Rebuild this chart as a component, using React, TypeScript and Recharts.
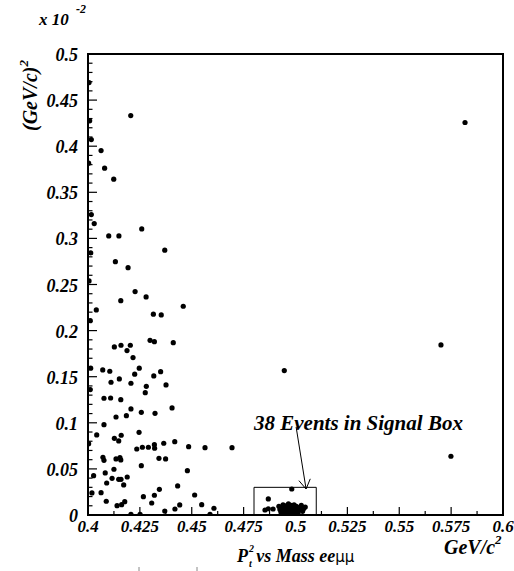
import React from "react";
import {
  ScatterChart,
  Scatter,
  XAxis,
  YAxis,
  ReferenceArea,
  ReferenceLine,
} from "recharts";

// background events (mass eeμμ, GeV/c^2) and Pt^2 (x 10^-2 (GeV/c)^2)
const bgMass = [
  0.4005, 0.4206, 0.4008, 0.4016, 0.4063, 0.4003, 0.408, 0.4124, 0.4016, 0.403,
  0.41, 0.4149, 0.4259, 0.4013, 0.437, 0.4132, 0.4193, 0.4005, 0.4227, 0.428,
  0.4158, 0.4459, 0.404, 0.4315, 0.4353, 0.4011, 0.4299, 0.432, 0.4411, 0.4127,
  0.4159, 0.4204, 0.4188, 0.4217, 0.4013, 0.4071, 0.4105, 0.4247, 0.435, 0.4225,
  0.4317, 0.4151, 0.4111, 0.4207, 0.4281, 0.4376, 0.4011, 0.4276, 0.4077, 0.4109,
  0.4158, 0.4207, 0.4257, 0.4323, 0.4405, 0.4135, 0.4185, 0.4077, 0.4042, 0.4246,
  0.4127, 0.4148, 0.416, 0.4003, 0.4235, 0.4262, 0.4291, 0.432, 0.4321, 0.4365,
  0.4418, 0.4485, 0.4564, 0.4694, 0.4072, 0.4077, 0.4135, 0.4154, 0.4158, 0.4342,
  0.4374, 0.4257, 0.4125, 0.4027, 0.4083, 0.4116, 0.4148, 0.4159, 0.4189, 0.4479,
  0.409, 0.4172, 0.4432, 0.4019, 0.4063, 0.4344, 0.4267, 0.432, 0.4514, 0.4088,
  0.414, 0.4162, 0.4177, 0.4307, 0.4442, 0.4548, 0.437, 0.4419, 0.4207, 0.4251,
  0.4588, 0.4607, 0.4946, 0.5749, 0.5701, 0.5817,
];
const bgPt2 = [
  0.469, 0.4332, 0.4275, 0.4072, 0.3953, 0.3816, 0.3762, 0.3642, 0.3258, 0.3161,
  0.3027, 0.3027, 0.3103, 0.2843, 0.2872, 0.2748, 0.2683, 0.2539, 0.2423, 0.2365,
  0.2325, 0.2264, 0.2224, 0.2178, 0.217, 0.2108, 0.1895, 0.188, 0.1869, 0.1823,
  0.1841, 0.1841, 0.1783, 0.1707, 0.1592, 0.1573, 0.1559, 0.1592, 0.1555, 0.1527,
  0.1508, 0.1476, 0.144, 0.1429, 0.1396, 0.1411, 0.136, 0.1327, 0.1266, 0.1269,
  0.1251, 0.115, 0.1114, 0.1103, 0.1161, 0.1063, 0.1077, 0.098, 0.0868, 0.0897,
  0.0832, 0.0803, 0.0865, 0.0774, 0.0716, 0.0735, 0.0735, 0.0763, 0.0724, 0.0778,
  0.0795, 0.0741, 0.073, 0.073, 0.0626, 0.0593, 0.0608, 0.0622, 0.0597, 0.0615,
  0.0608, 0.0535, 0.0496, 0.0426, 0.0456, 0.0398, 0.0387, 0.0387, 0.0412, 0.0481,
  0.0347, 0.0326, 0.0315, 0.0239, 0.0242, 0.0279, 0.0199, 0.0214, 0.0217, 0.0149,
  0.0101, 0.0112, 0.0144, 0.013, 0.0109, 0.0112, 0.0043, 0.0065, 0.0008, 0.0008,
  0.0008, 0.0073, 0.1566, 0.0637, 0.1845, 0.4257,
];

// the 38 events inside the signal box
const sigMass = [
  0.4982, 0.4869, 0.5047, 0.4853, 0.4869, 0.4892,
  0.492, 0.4925, 0.493, 0.4935, 0.494, 0.4942, 0.4948, 0.495, 0.4953, 0.4957,
  0.496, 0.4962, 0.4966, 0.4968, 0.4971, 0.4975, 0.4978, 0.498, 0.4983, 0.4986,
  0.499, 0.4993, 0.4996, 0.5, 0.5004, 0.5008, 0.5012, 0.5016, 0.5022, 0.5028,
  0.5034, 0.504,
];
const sigPt2 = [
  0.0282, 0.0174, 0.0087, 0.0054, 0.0068, 0.0065,
  0.0095, 0.006, 0.003, 0.008, 0.011, 0.0045, 0.0015, 0.007, 0.01, 0.0035,
  0.0085, 0.0055, 0.012, 0.002, 0.0075, 0.004, 0.0105, 0.006, 0.0015, 0.009,
  0.005, 0.011, 0.003, 0.0075, 0.0095, 0.0045, 0.002, 0.008, 0.006, 0.0105,
  0.004, 0.007,
];

const xTicks = [0.4, 0.425, 0.45, 0.475, 0.5, 0.525, 0.55, 0.575, 0.6];
const yTicks = [0, 0.05, 0.1, 0.15, 0.2, 0.25, 0.3, 0.35, 0.4, 0.45, 0.5];

// signal box and arrow (data coords)
const boxMass = [0.48, 0.51];
const boxPt2 = [0, 0.03];
const arrowFrom = { x: 0.5003, y: 0.0955 };
const arrowTo = { x: 0.5051, y: 0.0282 };

const W = 514;
const H = 571;
const LEFT = 88;
const TOP = 54;
const RIGHT = 503;
const BOTTOM = 515;
const FONT = "'Liberation Serif', 'Times New Roman', serif";

// minor ticks: 4 between y majors, 1 between x majors
const yAll: number[] = [];
yTicks.forEach((t, i) => {
  yAll.push(t);
  if (i < yTicks.length - 1) for (let k = 1; k < 5; k++) yAll.push(+(t + k * 0.01).toFixed(4));
});
const xAll: number[] = [];
xTicks.forEach((t, i) => {
  xAll.push(t);
  if (i < xTicks.length - 1) xAll.push(+(t + 0.0125).toFixed(4));
});

const fmt = (v: number) => String(parseFloat(v.toFixed(4)));
const isMajorX = (v: number) => xTicks.some((t) => Math.abs(t - v) < 1e-6);
const isMajorY = (v: number) => yTicks.some((t) => Math.abs(t - v) < 1e-6);

const bgData = bgMass.map((m, i) => ({ m, p: bgPt2[i] }));
const sigData = sigMass.map((m, i) => ({ m, p: sigPt2[i] }));

const Dot = (props: any) => {
  const { cx, cy } = props;
  return <circle cx={cx} cy={cy} r={2.6} fill="#000" />;
};

const YTick = (props: any) => {
  const { y, payload } = props;
  const major = isMajorY(payload.value);
  return (
    <g>
      <line x1={LEFT} x2={LEFT + (major ? 9 : 4.5)} y1={y} y2={y} stroke="#000" strokeWidth={1.2} />
      {major && (
        <text
          x={LEFT - 10}
          y={y + 7}
          textAnchor="end"
          fontFamily={FONT}
          fontWeight="bold"
          fontStyle="italic"
          fontSize={18}
          fill="#000"
        >
          {fmt(payload.value)}
        </text>
      )}
    </g>
  );
};

const XTick = (props: any) => {
  const { x, payload } = props;
  const major = isMajorX(payload.value);
  return (
    <g>
      <line x1={x} x2={x} y1={BOTTOM} y2={BOTTOM - (major ? 8 : 4)} stroke="#000" strokeWidth={1.2} />
      {major && (
        <text
          x={x}
          y={BOTTOM + 17}
          textAnchor="middle"
          fontFamily={FONT}
          fontWeight="bold"
          fontStyle="italic"
          fontSize={17}
          fill="#000"
        >
          {fmt(payload.value)}
        </text>
      )}
    </g>
  );
};

const Arrow = (props: any) => {
  const { x1, y1, x2, y2 } = props;
  const ang = Math.atan2(y2 - y1, x2 - x1);
  const len = 11;
  const spread = 0.55;
  const ax = x2 - len * Math.cos(ang - spread);
  const ay = y2 - len * Math.sin(ang - spread);
  const bx = x2 - len * Math.cos(ang + spread);
  const by = y2 - len * Math.sin(ang + spread);
  return (
    <g stroke="#000" strokeWidth={1} fill="none">
      <line x1={x1} y1={y1} x2={x2} y2={y2} />
      <polyline points={`${ax},${ay} ${x2},${y2} ${bx},${by}`} />
    </g>
  );
};

const bi = { fontFamily: FONT, fontWeight: "bold" as const, fontStyle: "italic" as const };

export default function App() {
  return (
    <div style={{ position: "absolute", left: 0, top: 0, width: W, height: H, background: "#fff" }}>
      <ScatterChart
        width={W}
        height={H}
        margin={{ top: TOP, right: W - RIGHT, bottom: 0, left: 0 }}
      >
        <XAxis
          type="number"
          dataKey="m"
          domain={[0.4, 0.6]}
          ticks={xAll}
          interval={0}
          height={H - BOTTOM}
          axisLine={false}
          tickLine={false}
          tick={<XTick />}
          allowDataOverflow
        />
        <YAxis
          type="number"
          dataKey="p"
          domain={[0, 0.5]}
          ticks={yAll}
          interval={0}
          width={LEFT}
          axisLine={false}
          tickLine={false}
          tick={<YTick />}
          allowDataOverflow
        />
        <ReferenceArea
          x1={0.4}
          x2={0.6}
          y1={0}
          y2={0.5}
          fill="none"
          stroke="#000"
          strokeWidth={2}
          ifOverflow="visible"
        />
        <ReferenceArea
          x1={boxMass[0]}
          x2={boxMass[1]}
          y1={boxPt2[0]}
          y2={boxPt2[1]}
          fill="none"
          stroke="#000"
          strokeWidth={1}
        />
        <Scatter data={bgData} shape={<Dot />} isAnimationActive={false} />
        <Scatter data={sigData} shape={<Dot />} isAnimationActive={false} />
        <ReferenceLine
          segment={[arrowFrom, arrowTo]}
          shape={<Arrow />}
          ifOverflow="visible"
        />
      </ScatterChart>
      <svg
        width={W}
        height={H}
        style={{ position: "absolute", left: 0, top: 0, pointerEvents: "none" }}
      >
        <text x={39} y={25} fontSize={17} {...bi}>x 10</text>
        <text x={76} y={13} fontSize={12} {...bi}>-2</text>
        <text
          transform="translate(37,131) rotate(-90)"
          fontSize={20}
          {...bi}
        >
          (GeV/c)
          <tspan fontSize={13} dy={-9}>2</tspan>
        </text>
        <text x={254} y={430} fontSize={21} {...bi}>38 Events in Signal Box</text>
        <text x={444} y={554} fontSize={20} {...bi}>
          GeV/c
          <tspan fontSize={13} dy={-10}>2</tspan>
        </text>
        <text x={237} y={562} fontSize={18} {...bi}>
          P
          <tspan fontSize={10} dx={1} dy={-10}>2</tspan>
          <tspan fontSize={10} dx={-5} dy={15}>t</tspan>
          <tspan dy={-5}> vs Mass ee</tspan>
          <tspan fontStyle="normal" fontWeight="normal" fontFamily="'DejaVu Sans', sans-serif" fontSize={15}>μμ</tspan>
        </text>
        <line x1={139} x2={139} y1={567} y2={571} stroke="#888" strokeWidth={1} />
        <line x1={197} x2={197} y1={567} y2={571} stroke="#888" strokeWidth={1} />
      </svg>
    </div>
  );
}
